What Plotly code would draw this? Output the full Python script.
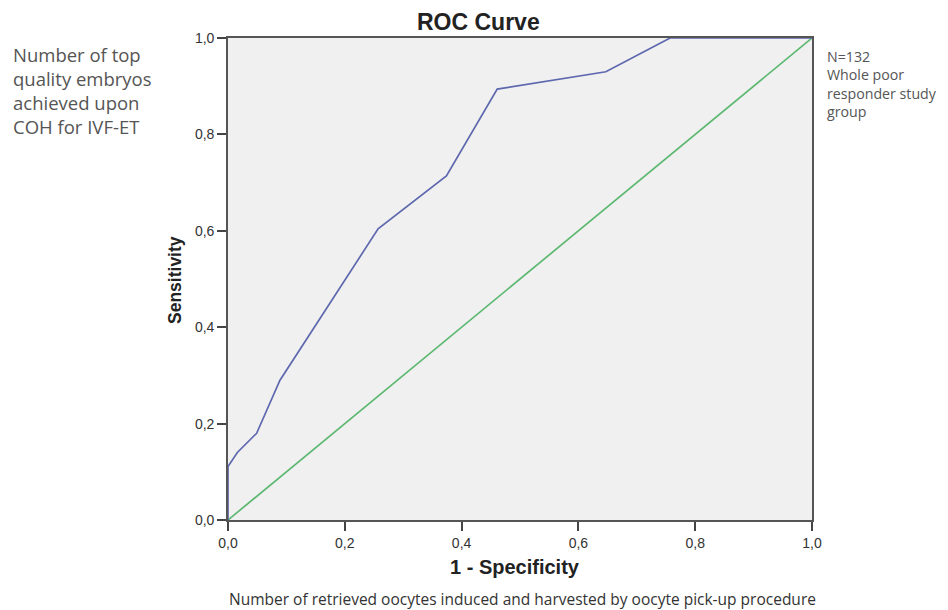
import plotly.graph_objects as go

# ROC curve values (1 - Specificity, Sensitivity)
fpr = [0.0, 0.0, 0.016, 0.049, 0.089, 0.257, 0.374, 0.461, 0.647, 0.757, 1.0]
tpr = [0.0, 0.111, 0.140, 0.180, 0.290, 0.604, 0.714, 0.894, 0.930, 1.0, 1.0]
# reference line
ref_x = [0.0, 1.0]
ref_y = [0.0, 1.0]
tick_vals = [0.0, 0.2, 0.4, 0.6, 0.8, 1.0]

# page has an 8px body margin; work in page pixel coordinates
OFF = 8
PW, PH = 948, 610
W, H = PW - OFF, PH - OFF
L, R, T, B = 228, 812, 38, 520   # plot area in page pixels


def px(xp):
    return (xp - L) / (R - L)


def py(yp):
    return (B - yp) / (B - T)


fig = go.Figure()
fig.add_trace(go.Scatter(x=ref_x, y=ref_y, mode="lines",
                         line=dict(color="#5cb870", width=1.7),
                         showlegend=False, hoverinfo="skip"))
fig.add_trace(go.Scatter(x=fpr, y=tpr, mode="lines",
                         line=dict(color="#5e68ae", width=1.7),
                         showlegend=False))

axis_common = dict(range=[0, 1], tickvals=tick_vals, tickformat=".1f",
                   showgrid=False, zeroline=False, showline=True, mirror=True,
                   linecolor="#555555", linewidth=1.6, ticks="outside",
                   ticklen=9, tickwidth=1.6, tickcolor="#444444",
                   tickfont=dict(family="Liberation Sans, Arial", size=14, color="#333333"))

fig.update_layout(
    width=W, height=H,
    margin=dict(l=L - OFF, r=W - (R - OFF), t=T - OFF, b=H - (B - OFF), pad=0),
    paper_bgcolor="white", plot_bgcolor="#f0f0f0",
    separators=",.",
    xaxis=dict(**axis_common),
    yaxis=dict(**axis_common),
)

ann = []
ann.append(dict(text="<b>ROC Curve</b>", x=px(478), y=py(22), xref="paper", yref="paper",
                xanchor="center", yanchor="middle", showarrow=False,
                font=dict(family="Liberation Sans, Arial", size=23, color="#222222")))
ann.append(dict(text="<b>1 - Specificity</b>", x=px(515), y=py(567), xref="paper", yref="paper",
                xanchor="center", yanchor="middle", showarrow=False,
                font=dict(family="Liberation Sans, Arial", size=20, color="#222222")))
ann.append(dict(text="<b>Sensitivity</b>", x=px(175), y=py(280), xref="paper", yref="paper",
                xanchor="center", yanchor="middle", textangle=-90, showarrow=False,
                font=dict(family="Liberation Sans, Arial", size=17.5, color="#222222")))
ann.append(dict(text="Number of top<br>quality embryos<br>achieved upon<br>COH for IVF-ET",
                x=px(11), y=py(40), xref="paper", yref="paper", align="left",
                xanchor="left", yanchor="top", showarrow=False,
                font=dict(family="Open Sans", size=18.5, color="#555555")))
ann.append(dict(text="N=132<br>Whole poor<br>responder study<br>group",
                x=px(825), y=py(45), xref="paper", yref="paper", align="left",
                xanchor="left", yanchor="top", showarrow=False,
                font=dict(family="Open Sans", size=14.2, color="#555555")))
ann.append(dict(text="Number of retrieved oocytes induced and harvested by oocyte pick-up procedure",
                x=px(522), y=py(599), xref="paper", yref="paper",
                xanchor="center", yanchor="middle", showarrow=False,
                font=dict(family="Open Sans", size=15.5, color="#333333")))
fig.update_layout(annotations=ann)

fig.write_html("out.html")
